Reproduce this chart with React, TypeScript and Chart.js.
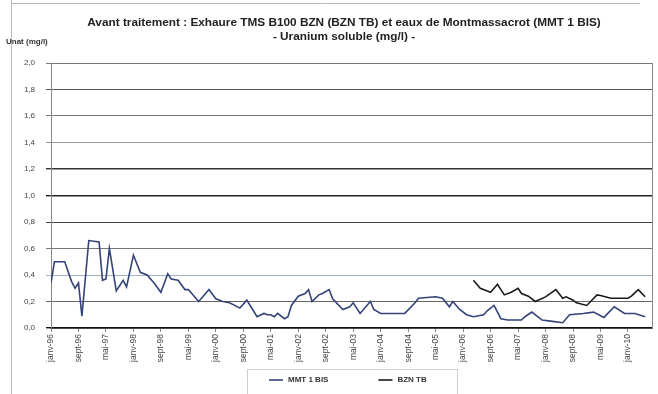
import React, { useEffect, useRef } from "react";
import { Chart, registerables } from "chart.js";

Chart.register(...registerables);

// X axis: months counted from janv-96, one label every 8 months
const tickLabels = [
  "janv-96", "sept-96", "mai-97", "janv-98", "sept-98", "mai-99", "janv-00", "sept-00",
  "mai-01", "janv-02", "sept-02", "mai-03", "janv-04", "sept-04", "mai-05", "janv-06",
  "sept-06", "mai-07", "janv-08", "sept-08", "mai-09", "janv-10",
];
const tickStep = 8;
const monthMax = 175;

const yTicks = [0, 0.2, 0.4, 0.6, 0.8, 1.0, 1.2, 1.4, 1.6, 1.8, 2.0];

// MMT 1 BIS
const mmtMonths = [
  0, 1, 4, 6, 7, 8, 9, 11, 14, 15, 16, 17, 18, 19, 21, 22, 24, 26, 28, 30, 32, 34, 35, 37,
  39, 40, 43, 46, 48, 50, 52, 55, 57, 58, 60, 62, 63, 64, 65, 66, 68, 69, 70, 72, 74, 75,
  76, 78, 79, 81, 82, 85, 87, 88, 90, 93, 94, 96, 103, 106, 107, 112, 114, 116, 117, 119,
  121, 123, 126, 127, 129, 131, 133, 137, 138, 140, 143, 146, 149, 151, 155, 158, 161, 164,
  167, 170, 173,
];
const mmtValues = [
  0.34, 0.5, 0.5, 0.35, 0.3, 0.34, 0.09, 0.66, 0.65, 0.36, 0.37, 0.6, 0.44, 0.28, 0.36, 0.31,
  0.55, 0.42, 0.4, 0.34, 0.27, 0.41, 0.37, 0.36, 0.29, 0.29, 0.2, 0.29, 0.22, 0.2, 0.19,
  0.15, 0.21, 0.17, 0.085, 0.11, 0.1, 0.1, 0.085, 0.11, 0.07, 0.085, 0.17, 0.24, 0.26, 0.29,
  0.2, 0.25, 0.26, 0.29, 0.22, 0.14, 0.16, 0.19, 0.11, 0.2, 0.14, 0.11, 0.11, 0.19, 0.225,
  0.236, 0.225, 0.16, 0.2, 0.14, 0.1, 0.085, 0.1, 0.13, 0.17, 0.07, 0.06, 0.06, 0.085, 0.12,
  0.06, 0.05, 0.04, 0.1, 0.11, 0.12, 0.08, 0.16, 0.11, 0.11, 0.085,
];

// BZN TB
const bznMonths = [
  123, 125, 128, 130, 132, 134, 136, 137, 139, 141, 144, 147, 149, 150, 152, 153, 156, 159,
  160, 163, 168, 169, 171, 173,
];
const bznValues = [
  0.36, 0.3, 0.27, 0.33, 0.25, 0.27, 0.3, 0.26, 0.24, 0.2, 0.235, 0.29, 0.225, 0.235, 0.21,
  0.19, 0.17, 0.25, 0.245, 0.225, 0.225, 0.24, 0.29, 0.236,
];

const titleLines = [
  "Avant traitement : Exhaure TMS B100 BZN (BZN TB) et eaux de Montmassacrot (MMT 1 BIS)",
  "- Uranium soluble (mg/l) -",
];
const yAxisTitle = "Unat (mg/l)";

const FONT = "'Liberation Sans', Arial, sans-serif";

const gridColorFor = (v: number) => {
  const k = Math.round(v * 10);
  const map: Record<number, string> = {
    0: "#111", 2: "#666", 4: "#9fb0c0", 6: "#777", 8: "#444", 10: "#222",
    12: "#333", 14: "#999", 16: "#777", 18: "#555", 20: "#777",
  };
  return map[k] || "#888";
};

const framePlugin = {
  id: "framePlugin",
  afterDraw(chart: any) {
    const { ctx, chartArea } = chart;
    ctx.save();
    // outer frame (scan page border)
    ctx.strokeStyle = "#b8b8b8";
    ctx.lineWidth = 1;
    ctx.beginPath();
    ctx.moveTo(11.5, 0);
    ctx.lineTo(11.5, 394);
    ctx.moveTo(11, 3.5);
    ctx.lineTo(640, 3.5);
    ctx.stroke();
    // right border of plot area
    ctx.strokeStyle = "#888";
    ctx.beginPath();
    ctx.moveTo(chartArea.right + 0.5, chartArea.top);
    ctx.lineTo(chartArea.right + 0.5, chartArea.bottom);
    ctx.stroke();

    // title (two centred lines)
    ctx.fillStyle = "#222";
    ctx.font = `bold 11.8px ${FONT}`;
    ctx.textAlign = "center";
    ctx.textBaseline = "middle";
    ctx.fillText(titleLines[0], 344, 23);
    ctx.fillText(titleLines[1], 344, 37);

    // legend (drawn by hand so the gap and box match the reference)
    const ly = 380;
    ctx.font = `bold 8px ${FONT}`;
    ctx.textAlign = "left";
    const items = chart.data.datasets.map((d: any) => ({
      label: d.label as string,
      color: d.borderColor as string,
      w: ctx.measureText(d.label).width,
    }));
    const marker = 14;
    const gapMarker = 5;
    const gapItems = 50;
    const total = items.reduce((s: number, it: any) => s + marker + gapMarker + it.w, 0) + gapItems * (items.length - 1);
    let x = Math.round(348 - total / 2);
    ctx.strokeStyle = "#cfcfcf";
    ctx.lineWidth = 1;
    ctx.strokeRect(247.5, 369.5, 210, 26);
    items.forEach((it: any) => {
      ctx.strokeStyle = it.color;
      ctx.lineWidth = 1.6;
      ctx.beginPath();
      ctx.moveTo(x, ly);
      ctx.lineTo(x + marker, ly);
      ctx.stroke();
      ctx.fillStyle = "#333";
      ctx.fillText(it.label, x + marker + gapMarker, ly);
      x += marker + gapMarker + it.w + gapItems;
    });

    // y axis title
    ctx.fillStyle = "#333";
    ctx.font = `bold 8px ${FONT}`;
    ctx.textAlign = "left";
    ctx.fillText(yAxisTitle, 6, 42);
    ctx.restore();
  },
};

export default function App() {
  const ref = useRef<HTMLCanvasElement | null>(null);

  useEffect(() => {
    document.body.style.margin = "0";
    const canvas = ref.current;
    if (!canvas) return;
    const chart = new Chart(canvas, {
      type: "line",
      data: {
        datasets: [
          {
            label: "MMT 1 BIS",
            data: mmtMonths.map((m, i) => ({ x: m, y: mmtValues[i] })),
            borderColor: "#34437a",
            backgroundColor: "#34437a",
            borderWidth: 1.6,
            pointRadius: 0,
            tension: 0,
          },
          {
            label: "BZN TB",
            data: bznMonths.map((m, i) => ({ x: m, y: bznValues[i] })),
            borderColor: "#1a1a1a",
            backgroundColor: "#1a1a1a",
            borderWidth: 1.6,
            pointRadius: 0,
            tension: 0,
          },
        ],
      },
      options: {
        responsive: false,
        animation: false,
        layout: { padding: { left: 10, right: 6, top: 63, bottom: 24 } },
        plugins: {
          title: { display: false },
          legend: { display: false },
          tooltip: { enabled: false },
        },
        scales: {
          x: {
            type: "linear",
            min: 0,
            max: monthMax,
            afterBuildTicks: (s: any) => {
              s.ticks = tickLabels.map((_, i) => ({ value: i * tickStep }));
            },
            afterFit: (s: any) => {
              s.height = 42;
            },
            ticks: {
              autoSkip: false,
              minRotation: 90,
              maxRotation: 90,
              padding: 2,
              color: "#444",
              font: { family: FONT, size: 8.5 },
              callback: (v: any) => tickLabels[Math.round(Number(v) / tickStep)] ?? "",
            },
            grid: { drawOnChartArea: false, tickLength: 4, color: "#888" },
            border: { color: "#111", width: 1.5 },
          },
          y: {
            min: 0,
            max: 2,
            afterBuildTicks: (s: any) => {
              s.ticks = yTicks.map((v) => ({ value: v }));
            },
            afterFit: (s: any) => {
              s.width = 41;
            },
            ticks: {
              padding: 11,
              color: "#444",
              font: { family: FONT, size: 8 },
              callback: (v: any) => Number(v).toFixed(1).replace(".", ","),
            },
            grid: {
              tickLength: 5,
              color: (c: any) => gridColorFor(c.tick ? c.tick.value : 0),
              lineWidth: (c: any) => {
                const k = c.tick ? Math.round(c.tick.value * 10) : 0;
                return k === 0 || k === 10 || k === 12 ? 1.4 : 1;
              },
            },
            border: { color: "#888" },
          },
        },
      },
      plugins: [framePlugin],
    } as any);
    return () => chart.destroy();
  }, []);

  return (
    <div style={{ width: 658, height: 394, background: "#fff" }}>
      <canvas ref={ref} width={658} height={394} />
    </div>
  );
}
